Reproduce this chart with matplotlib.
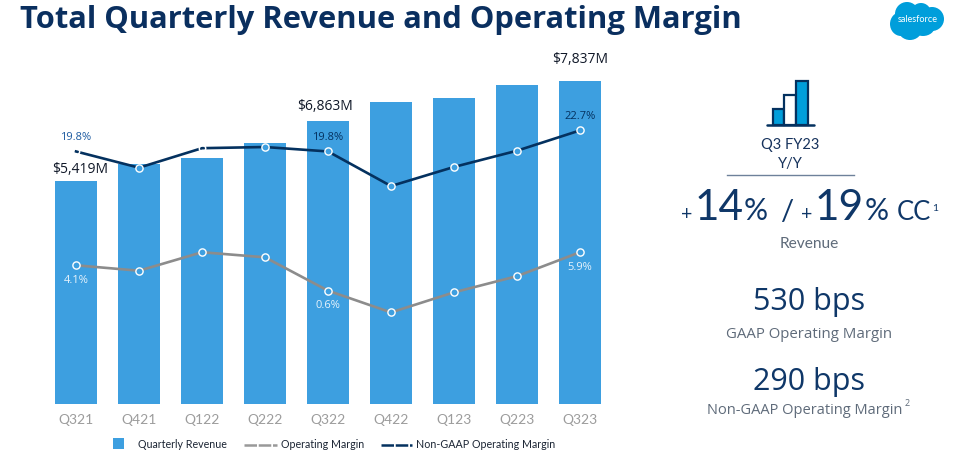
import matplotlib
matplotlib.use("Agg")
import matplotlib.pyplot as plt
from matplotlib.patches import Rectangle, Ellipse

quarters = ['Q321', 'Q421', 'Q122', 'Q222', 'Q322', 'Q422', 'Q123', 'Q223', 'Q323']
revenue = [5419, 5817, 5965, 6343, 6863, 7326, 7430, 7740, 7837]
gaap_margin = [4.1, 3.35, 5.9, 5.2, 0.6, -2.4, 0.37, 2.6, 5.9]
non_gaap_margin = [19.8, 17.56, 20.25, 20.41, 19.8, 15.03, 17.66, 19.9, 22.7]

BLUE = '#3d9fe0'
NAVY = '#04315f'
GRAY = '#8c8c8c'
TEXT_GRAY = '#5f6b7a'
SANS = 'Open Sans'

W, H = 955, 455
fig = plt.figure(figsize=(W / 100, H / 100), dpi=100)


def px_axes(left, top, right, bottom):
    return [left / W, 1 - bottom / H, (right - left) / W, (bottom - top) / H]


# bar chart, axes box lined up with the slide
ax = fig.add_axes(px_axes(44, 50, 612, 404))
x = list(range(len(quarters)))
ax.bar(x, revenue, width=0.667, color=BLUE)
ax.set_xlim(-0.508, 8.508)
ax.set_ylim(0, 8592)
ax.set_yticks([])
ax.set_xticks(x)
ax.set_xticklabels(quarters, family='Lato', fontsize=10, color='#9c9c9c')
ax.tick_params(axis='x', length=0, pad=7)
for s in ax.spines.values():
    s.set_visible(False)

rev_labels = {0: (3, 3), 4: (-2, 5), 8: (0, 10)}
for i, (dx, dy) in rev_labels.items():
    ax.annotate(f'${revenue[i]:,}M', (i, revenue[i]), xytext=(dx, dy), textcoords='offset points',
                ha='center', va='bottom', family=SANS, fontsize=10, color='#101828')

# margin lines on their own scale
ax2 = ax.twinx()
ax2.set_ylim(-15.03, 33.79)
ax2.set_yticks([])
for s in ax2.spines.values():
    s.set_visible(False)

ax2.plot(x, gaap_margin, color=GRAY, lw=1.9)
ax2.plot(x, gaap_margin, ls='none', marker='o', ms=5.2, mfc=BLUE, mec='white', mew=1)
ax2.plot(x, non_gaap_margin, color=NAVY, lw=1.9)
on_white = [0, 2]
on_bar = [1, 3, 4, 5, 6, 7, 8]
ax2.plot(x, non_gaap_margin, ls='none', marker='o', ms=5.2, mfc=BLUE, mec='white', mew=1, markevery=on_bar)
ax2.plot(x, non_gaap_margin, ls='none', marker='o', ms=4.6, mfc='none', mec='white', mew=1.1, markevery=on_white)


def margin_label(i, vals, dy, color):
    ax2.annotate(f'{vals[i]:.1f}%', (i, vals[i]), xytext=(0, dy), textcoords='offset points',
                 ha='center', va='center', family=SANS, fontsize=8, color=color)


margin_label(0, non_gaap_margin, 10, '#1c5aa0')
margin_label(4, non_gaap_margin, 10, NAVY)
margin_label(8, non_gaap_margin, 10, NAVY)
margin_label(0, gaap_margin, -11, '#e6f2fb')
margin_label(4, gaap_margin, -11, '#e6f2fb')
margin_label(8, gaap_margin, -11, '#e6f2fb')

# overlay in slide pixels for the title, legend and right panel
ov = fig.add_axes([0, 0, 1, 1], zorder=5)
ov.set_xlim(0, W)
ov.set_ylim(H, 0)
ov.axis('off')

ov.text(20, 28, 'Total Quarterly Revenue and Operating Margin', family=SANS, weight='bold',
        fontsize=22.2, color='#0a2f5f', va='baseline')

# logo
for cx, cy, w, h in [(901, 24, 22, 24), (907, 14, 24, 24), (921, 13, 20, 20), (932, 19, 24, 24), (910, 29, 24, 22), (923, 26, 24, 20)]:
    ov.add_patch(Ellipse((cx, cy), w, h, color='#009edb', lw=0))
ov.text(918, 19, 'salesforce', family='Lato', fontsize=6.6, color='white', ha='center', va='center')

# legend
ov.add_patch(Rectangle((113, 438), 11, 11, color=BLUE, lw=0))
ov.text(138, 444, 'Quarterly Revenue', family='Lato', fontsize=7.7, color='#1a2433', va='center')
ov.plot([244, 277], [444.5, 444.5], color='#999999', lw=1.8, dashes=(5, 0.7))
ov.text(281, 444, 'Operating Margin', family='Lato', fontsize=7.7, color='#1a2433', va='center')
ov.plot([381, 412], [444.5, 444.5], color=NAVY, lw=1.8, dashes=(5, 0.7))
ov.text(416, 444, 'Non-GAAP Operating Margin', family='Lato', fontsize=7.7, color='#1a2433', va='center')

# icon
ov.plot([767, 814], [124.5, 124.5], color=NAVY, lw=1.8, solid_capstyle='round')
for left, right, top, fill in [(773, 784, 109, '#009edb'), (784, 796, 95, 'white'), (796, 808, 81, '#009edb')]:
    ov.add_patch(Rectangle((left, top), right - left, 124.5 - top, fc=fill, ec=NAVY, lw=1.6))

ov.text(790, 145, 'Q3 FY23', family='Lato', fontsize=10.5, color='#16325c', ha='center', va='center')
ov.text(790, 164, 'Y/Y', family='Lato', fontsize=10.5, color='#16325c', ha='center', va='center')
ov.plot([727, 854], [175, 175], color='#6e819a', lw=1)

BASE = 220.5
for xp, txt, size in [(681, '+', 14), (695, '14', 30.5), (744, '%', 21.5), (780, '/', 21), (801, '+', 14),
                      (815, '19', 30.5), (865, '%', 21.5), (897, 'CC', 18.5)]:
    ov.text(xp, BASE, txt, family='Lato', fontsize=size, color='#0f3768', va='baseline')
ov.text(932, 211, '1', family='Lato', fontsize=7.5, color='#0f3768', va='baseline')
ov.text(809, 244, 'Revenue', family='Lato', fontsize=11.2, color=TEXT_GRAY, ha='center', va='center')

ov.text(809, 310, '530 bps', family=SANS, fontsize=22, color='#0f3768', ha='center', va='baseline')
ov.text(809, 335, 'GAAP Operating Margin', family=SANS, fontsize=10.8, color=TEXT_GRAY, ha='center', va='center')
ov.text(809, 390, '290 bps', family=SANS, fontsize=22, color='#0f3768', ha='center', va='baseline')
ov.text(805, 410, 'Non-GAAP Operating Margin', family=SANS, fontsize=10.5, color=TEXT_GRAY, ha='center', va='center')
ov.text(905, 404, '2', family=SANS, fontsize=6.5, color=TEXT_GRAY, va='center')

fig.savefig('out.png', dpi=100)
